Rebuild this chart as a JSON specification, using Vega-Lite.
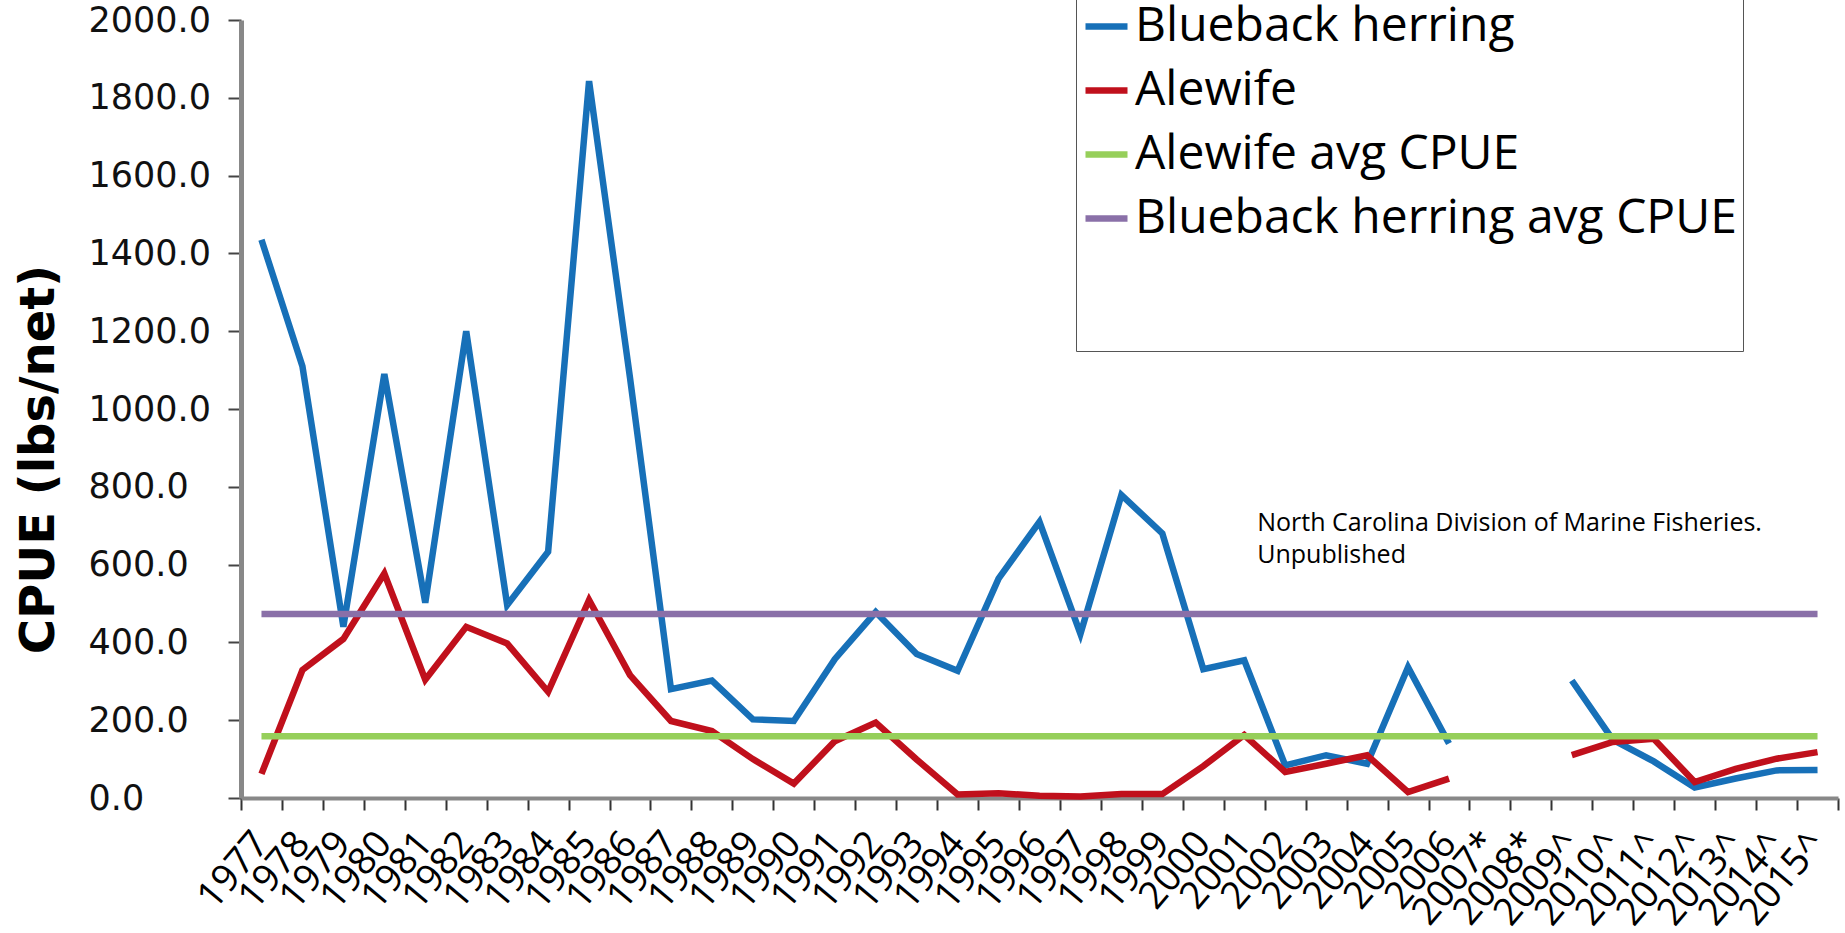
{
  "$schema": "https://vega.github.io/schema/vega-lite/v6.json",
  "autosize": {"type": "none"},
  "width": 1597,
  "height": 778,
  "padding": {"left": 241, "top": 20, "right": 7, "bottom": 135},
  "background": "white",
  "config": {"view": {"stroke": null}, "font": "Open Sans"},
  "datasets": {
    "species": [
      {"year": "1977", "series": "Blueback herring", "cpue": 1435},
      {"year": "1978", "series": "Blueback herring", "cpue": 1110},
      {"year": "1979", "series": "Blueback herring", "cpue": 440},
      {"year": "1980", "series": "Blueback herring", "cpue": 1090},
      {"year": "1981", "series": "Blueback herring", "cpue": 502},
      {"year": "1982", "series": "Blueback herring", "cpue": 1200},
      {"year": "1983", "series": "Blueback herring", "cpue": 496},
      {"year": "1984", "series": "Blueback herring", "cpue": 633},
      {"year": "1985", "series": "Blueback herring", "cpue": 1843},
      {"year": "1986", "series": "Blueback herring", "cpue": 1080},
      {"year": "1987", "series": "Blueback herring", "cpue": 280},
      {"year": "1988", "series": "Blueback herring", "cpue": 302},
      {"year": "1989", "series": "Blueback herring", "cpue": 202},
      {"year": "1990", "series": "Blueback herring", "cpue": 198},
      {"year": "1991", "series": "Blueback herring", "cpue": 357},
      {"year": "1992", "series": "Blueback herring", "cpue": 478},
      {"year": "1993", "series": "Blueback herring", "cpue": 370},
      {"year": "1994", "series": "Blueback herring", "cpue": 327},
      {"year": "1995", "series": "Blueback herring", "cpue": 564},
      {"year": "1996", "series": "Blueback herring", "cpue": 710},
      {"year": "1997", "series": "Blueback herring", "cpue": 422},
      {"year": "1998", "series": "Blueback herring", "cpue": 779},
      {"year": "1999", "series": "Blueback herring", "cpue": 680},
      {"year": "2000", "series": "Blueback herring", "cpue": 331},
      {"year": "2001", "series": "Blueback herring", "cpue": 354},
      {"year": "2002", "series": "Blueback herring", "cpue": 84},
      {"year": "2003", "series": "Blueback herring", "cpue": 110},
      {"year": "2004", "series": "Blueback herring", "cpue": 88},
      {"year": "2005", "series": "Blueback herring", "cpue": 336},
      {"year": "2006", "series": "Blueback herring", "cpue": 140},
      {"year": "2007*", "series": "Blueback herring", "cpue": null},
      {"year": "2008*", "series": "Blueback herring", "cpue": null},
      {"year": "2009^", "series": "Blueback herring", "cpue": 302},
      {"year": "2010^", "series": "Blueback herring", "cpue": 150},
      {"year": "2011^", "series": "Blueback herring", "cpue": 94},
      {"year": "2012^", "series": "Blueback herring", "cpue": 27},
      {"year": "2013^", "series": "Blueback herring", "cpue": 50},
      {"year": "2014^", "series": "Blueback herring", "cpue": 71},
      {"year": "2015^", "series": "Blueback herring", "cpue": 72},
      {"year": "1977", "series": "Alewife", "cpue": 62},
      {"year": "1978", "series": "Alewife", "cpue": 329},
      {"year": "1979", "series": "Alewife", "cpue": 409},
      {"year": "1980", "series": "Alewife", "cpue": 577},
      {"year": "1981", "series": "Alewife", "cpue": 304},
      {"year": "1982", "series": "Alewife", "cpue": 440},
      {"year": "1983", "series": "Alewife", "cpue": 397},
      {"year": "1984", "series": "Alewife", "cpue": 273},
      {"year": "1985", "series": "Alewife", "cpue": 509},
      {"year": "1986", "series": "Alewife", "cpue": 316},
      {"year": "1987", "series": "Alewife", "cpue": 198},
      {"year": "1988", "series": "Alewife", "cpue": 172},
      {"year": "1989", "series": "Alewife", "cpue": 100},
      {"year": "1990", "series": "Alewife", "cpue": 37},
      {"year": "1991", "series": "Alewife", "cpue": 146},
      {"year": "1992", "series": "Alewife", "cpue": 194},
      {"year": "1993", "series": "Alewife", "cpue": 99},
      {"year": "1994", "series": "Alewife", "cpue": 9},
      {"year": "1995", "series": "Alewife", "cpue": 12},
      {"year": "1996", "series": "Alewife", "cpue": 6},
      {"year": "1997", "series": "Alewife", "cpue": 4},
      {"year": "1998", "series": "Alewife", "cpue": 10},
      {"year": "1999", "series": "Alewife", "cpue": 10},
      {"year": "2000", "series": "Alewife", "cpue": 82},
      {"year": "2001", "series": "Alewife", "cpue": 162},
      {"year": "2002", "series": "Alewife", "cpue": 67},
      {"year": "2003", "series": "Alewife", "cpue": 88},
      {"year": "2004", "series": "Alewife", "cpue": 110},
      {"year": "2005", "series": "Alewife", "cpue": 15},
      {"year": "2006", "series": "Alewife", "cpue": 50},
      {"year": "2007*", "series": "Alewife", "cpue": null},
      {"year": "2008*", "series": "Alewife", "cpue": null},
      {"year": "2009^", "series": "Alewife", "cpue": 110},
      {"year": "2010^", "series": "Alewife", "cpue": 144},
      {"year": "2011^", "series": "Alewife", "cpue": 152},
      {"year": "2012^", "series": "Alewife", "cpue": 41},
      {"year": "2013^", "series": "Alewife", "cpue": 75},
      {"year": "2014^", "series": "Alewife", "cpue": 101},
      {"year": "2015^", "series": "Alewife", "cpue": 118}
    ],
    "averages": [
      {"year": "1977", "series": "Alewife avg CPUE", "cpue": 159},
      {"year": "1978", "series": "Alewife avg CPUE", "cpue": 159},
      {"year": "1979", "series": "Alewife avg CPUE", "cpue": 159},
      {"year": "1980", "series": "Alewife avg CPUE", "cpue": 159},
      {"year": "1981", "series": "Alewife avg CPUE", "cpue": 159},
      {"year": "1982", "series": "Alewife avg CPUE", "cpue": 159},
      {"year": "1983", "series": "Alewife avg CPUE", "cpue": 159},
      {"year": "1984", "series": "Alewife avg CPUE", "cpue": 159},
      {"year": "1985", "series": "Alewife avg CPUE", "cpue": 159},
      {"year": "1986", "series": "Alewife avg CPUE", "cpue": 159},
      {"year": "1987", "series": "Alewife avg CPUE", "cpue": 159},
      {"year": "1988", "series": "Alewife avg CPUE", "cpue": 159},
      {"year": "1989", "series": "Alewife avg CPUE", "cpue": 159},
      {"year": "1990", "series": "Alewife avg CPUE", "cpue": 159},
      {"year": "1991", "series": "Alewife avg CPUE", "cpue": 159},
      {"year": "1992", "series": "Alewife avg CPUE", "cpue": 159},
      {"year": "1993", "series": "Alewife avg CPUE", "cpue": 159},
      {"year": "1994", "series": "Alewife avg CPUE", "cpue": 159},
      {"year": "1995", "series": "Alewife avg CPUE", "cpue": 159},
      {"year": "1996", "series": "Alewife avg CPUE", "cpue": 159},
      {"year": "1997", "series": "Alewife avg CPUE", "cpue": 159},
      {"year": "1998", "series": "Alewife avg CPUE", "cpue": 159},
      {"year": "1999", "series": "Alewife avg CPUE", "cpue": 159},
      {"year": "2000", "series": "Alewife avg CPUE", "cpue": 159},
      {"year": "2001", "series": "Alewife avg CPUE", "cpue": 159},
      {"year": "2002", "series": "Alewife avg CPUE", "cpue": 159},
      {"year": "2003", "series": "Alewife avg CPUE", "cpue": 159},
      {"year": "2004", "series": "Alewife avg CPUE", "cpue": 159},
      {"year": "2005", "series": "Alewife avg CPUE", "cpue": 159},
      {"year": "2006", "series": "Alewife avg CPUE", "cpue": 159},
      {"year": "2007*", "series": "Alewife avg CPUE", "cpue": 159},
      {"year": "2008*", "series": "Alewife avg CPUE", "cpue": 159},
      {"year": "2009^", "series": "Alewife avg CPUE", "cpue": 159},
      {"year": "2010^", "series": "Alewife avg CPUE", "cpue": 159},
      {"year": "2011^", "series": "Alewife avg CPUE", "cpue": 159},
      {"year": "2012^", "series": "Alewife avg CPUE", "cpue": 159},
      {"year": "2013^", "series": "Alewife avg CPUE", "cpue": 159},
      {"year": "2014^", "series": "Alewife avg CPUE", "cpue": 159},
      {"year": "2015^", "series": "Alewife avg CPUE", "cpue": 159},
      {"year": "1977", "series": "Blueback herring avg CPUE", "cpue": 473},
      {"year": "1978", "series": "Blueback herring avg CPUE", "cpue": 473},
      {"year": "1979", "series": "Blueback herring avg CPUE", "cpue": 473},
      {"year": "1980", "series": "Blueback herring avg CPUE", "cpue": 473},
      {"year": "1981", "series": "Blueback herring avg CPUE", "cpue": 473},
      {"year": "1982", "series": "Blueback herring avg CPUE", "cpue": 473},
      {"year": "1983", "series": "Blueback herring avg CPUE", "cpue": 473},
      {"year": "1984", "series": "Blueback herring avg CPUE", "cpue": 473},
      {"year": "1985", "series": "Blueback herring avg CPUE", "cpue": 473},
      {"year": "1986", "series": "Blueback herring avg CPUE", "cpue": 473},
      {"year": "1987", "series": "Blueback herring avg CPUE", "cpue": 473},
      {"year": "1988", "series": "Blueback herring avg CPUE", "cpue": 473},
      {"year": "1989", "series": "Blueback herring avg CPUE", "cpue": 473},
      {"year": "1990", "series": "Blueback herring avg CPUE", "cpue": 473},
      {"year": "1991", "series": "Blueback herring avg CPUE", "cpue": 473},
      {"year": "1992", "series": "Blueback herring avg CPUE", "cpue": 473},
      {"year": "1993", "series": "Blueback herring avg CPUE", "cpue": 473},
      {"year": "1994", "series": "Blueback herring avg CPUE", "cpue": 473},
      {"year": "1995", "series": "Blueback herring avg CPUE", "cpue": 473},
      {"year": "1996", "series": "Blueback herring avg CPUE", "cpue": 473},
      {"year": "1997", "series": "Blueback herring avg CPUE", "cpue": 473},
      {"year": "1998", "series": "Blueback herring avg CPUE", "cpue": 473},
      {"year": "1999", "series": "Blueback herring avg CPUE", "cpue": 473},
      {"year": "2000", "series": "Blueback herring avg CPUE", "cpue": 473},
      {"year": "2001", "series": "Blueback herring avg CPUE", "cpue": 473},
      {"year": "2002", "series": "Blueback herring avg CPUE", "cpue": 473},
      {"year": "2003", "series": "Blueback herring avg CPUE", "cpue": 473},
      {"year": "2004", "series": "Blueback herring avg CPUE", "cpue": 473},
      {"year": "2005", "series": "Blueback herring avg CPUE", "cpue": 473},
      {"year": "2006", "series": "Blueback herring avg CPUE", "cpue": 473},
      {"year": "2007*", "series": "Blueback herring avg CPUE", "cpue": 473},
      {"year": "2008*", "series": "Blueback herring avg CPUE", "cpue": 473},
      {"year": "2009^", "series": "Blueback herring avg CPUE", "cpue": 473},
      {"year": "2010^", "series": "Blueback herring avg CPUE", "cpue": 473},
      {"year": "2011^", "series": "Blueback herring avg CPUE", "cpue": 473},
      {"year": "2012^", "series": "Blueback herring avg CPUE", "cpue": 473},
      {"year": "2013^", "series": "Blueback herring avg CPUE", "cpue": 473},
      {"year": "2014^", "series": "Blueback herring avg CPUE", "cpue": 473},
      {"year": "2015^", "series": "Blueback herring avg CPUE", "cpue": 473}
    ],
    "note": [
      {"year": "2001", "cpue": 708, "note": ["North Carolina Division of Marine Fisheries.", "Unpublished"]}
    ]
  },
  "layer": [
    {
      "data": {"name": "species"},
      "mark": {"type": "line", "strokeWidth": 6.5, "strokeJoin": "miter"},
      "encoding": {
        "x": {
          "field": "year", "type": "ordinal", "sort": null,
          "scale": {"type": "band", "paddingInner": 0, "paddingOuter": 0,
            "domain": ["1977","1978","1979","1980","1981","1982","1983","1984","1985","1986","1987","1988","1989","1990","1991","1992","1993","1994","1995","1996","1997","1998","1999","2000","2001","2002","2003","2004","2005","2006","2007*","2008*","2009^","2010^","2011^","2012^","2013^","2014^","2015^"]},
          "axis": {"title": null, "labelAngle": -50, "labelAlign": "right", "labelBaseline": "middle", "labelFont": "Open Sans", "labelFontSize": 38, "labelColor": "#000", "labelPadding": 27, "labelOverlap": false, "tickBand": "extent", "tickSize": 12, "tickWidth": 2, "tickColor": "#333", "domainColor": "#888", "domainWidth": 4, "grid": false}
        },
        "y": {
          "field": "cpue", "type": "quantitative",
          "scale": {"domain": [0, 2000], "nice": false},
          "axis": {"title": "CPUE (lbs/net)", "titleFont": "DejaVu Sans", "titleFontWeight": "bold", "titleFontSize": 48, "titleColor": "#000", "titleAngle": -90, "titleX": -188, "titleY": 439, "titleAlign": "center", "titleBaseline": "alphabetic",
            "values": [0, 200, 400, 600, 800, 1000, 1200, 1400, 1600, 1800, 2000], "format": ".1f",
            "labelFont": "DejaVu Sans", "labelFontSize": 35, "labelColor": "#111", "labelAlign": "left", "labelBaseline": "middle", "labelPadding": 140,
            "tickSize": 13, "tickWidth": 2, "tickColor": "#444", "domainColor": "#888", "domainWidth": 5, "grid": false}
        },
        "color": {
          "field": "series", "type": "nominal",
          "scale": {"domain": ["Blueback herring", "Alewife", "Alewife avg CPUE", "Blueback herring avg CPUE"], "range": ["#1770b8", "#c0101c", "#96cf5a", "#8a70a8"]},
          "legend": {"orient": "none", "legendX": 835, "legendY": -24, "direction": "vertical", "symbolType": "stroke", "symbolStrokeWidth": 6.5, "symbolSize": 1764, "labelFont": "Open Sans", "labelFontSize": 48, "labelColor": "#000", "labelLimit": 1500, "labelOffset": 4, "rowPadding": 15, "padding": 6, "strokeColor": "#555", "fillColor": "white",
            "title": "\u00a0", "titleOrient": "bottom", "titlePadding": 82, "titleFontSize": 20}
        }
      }
    },
    {
      "data": {"name": "averages"},
      "mark": {"type": "line", "strokeWidth": 6.5},
      "encoding": {
        "x": {"field": "year", "type": "ordinal", "sort": null},
        "y": {"field": "cpue", "type": "quantitative"},
        "color": {"field": "series", "type": "nominal"}
      }
    },
    {
      "data": {"name": "note"},
      "mark": {"type": "text", "align": "left", "baseline": "middle", "dx": 13, "font": "Open Sans", "fontSize": 25, "lineHeight": 32, "color": "#000"},
      "encoding": {
        "x": {"field": "year", "type": "ordinal", "sort": null},
        "y": {"field": "cpue", "type": "quantitative"},
        "text": {"field": "note"}
      }
    }
  ]
}
